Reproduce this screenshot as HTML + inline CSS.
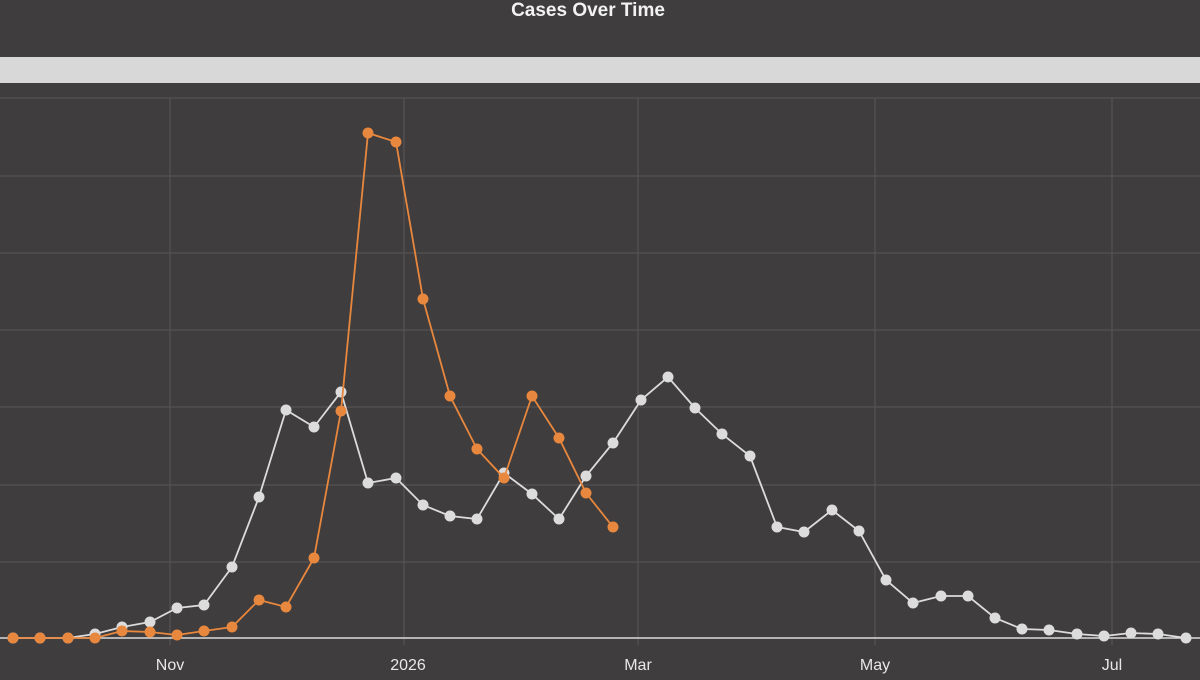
<!DOCTYPE html>
<html><head><meta charset="utf-8"><style>
body{margin:0;background:#3f3d3d;width:1200px;height:675px;overflow:hidden;font-family:"Liberation Sans",sans-serif}
</style></head><body>
<svg width="1200" height="675" xmlns="http://www.w3.org/2000/svg">
<rect width="1200" height="675" fill="#3f3d3d"/>
<text x="588" y="16" fill="#f2f2f2" font-size="19" font-weight="bold" text-anchor="middle">Cases Over Time</text>
<rect x="0" y="57" width="1200" height="26" fill="#d8d8d8"/>
<g stroke="#555353" stroke-width="1.2">
<line x1="0" y1="98" x2="1200" y2="98"/><line x1="0" y1="176" x2="1200" y2="176"/><line x1="0" y1="253" x2="1200" y2="253"/><line x1="0" y1="330" x2="1200" y2="330"/><line x1="0" y1="407" x2="1200" y2="407"/><line x1="0" y1="485" x2="1200" y2="485"/><line x1="0" y1="562" x2="1200" y2="562"/>
<line x1="170" y1="98" x2="170" y2="645"/><line x1="404" y1="98" x2="404" y2="645"/><line x1="638" y1="98" x2="638" y2="645"/><line x1="875" y1="98" x2="875" y2="645"/><line x1="1112" y1="98" x2="1112" y2="645"/>
</g>
<line x1="0" y1="638" x2="1200" y2="638" stroke="#dcdcdc" stroke-width="1.5"/>
<g fill="#e8e8e8" font-size="16" text-anchor="middle">
<text x="170" y="670">Nov</text><text x="408" y="670">2026</text><text x="638" y="670">Mar</text><text x="875" y="670">May</text><text x="1112" y="670">Jul</text>
</g>
<polyline fill="none" stroke="#dcdcdc" stroke-width="1.8" points="13,638 40,638 68,638 95,634 122,627 150,622 177,608 204,605 232,567 259,497 286,410 314,427 341,392 368,483 396,478 423,505 450,516 477,519 504,473 532,494 559,519 586,476 613,443 641,400 668,377 695,408 722,434 750,456 777,527 804,532 832,510 859,531 886,580 913,603 941,596 968,596 995,618 1022,629 1049,630 1077,634 1104,636 1131,633 1158,634 1186,638"/>
<g fill="#dcdcdc" id="w">
<circle cx="13" cy="638" r="5.5"/><circle cx="40" cy="638" r="5.5"/><circle cx="68" cy="638" r="5.5"/><circle cx="95" cy="634" r="5.5"/><circle cx="122" cy="627" r="5.5"/><circle cx="150" cy="622" r="5.5"/><circle cx="177" cy="608" r="5.5"/><circle cx="204" cy="605" r="5.5"/><circle cx="232" cy="567" r="5.5"/><circle cx="259" cy="497" r="5.5"/><circle cx="286" cy="410" r="5.5"/><circle cx="314" cy="427" r="5.5"/><circle cx="341" cy="392" r="5.5"/><circle cx="368" cy="483" r="5.5"/><circle cx="396" cy="478" r="5.5"/><circle cx="423" cy="505" r="5.5"/><circle cx="450" cy="516" r="5.5"/><circle cx="477" cy="519" r="5.5"/><circle cx="504" cy="473" r="5.5"/><circle cx="532" cy="494" r="5.5"/><circle cx="559" cy="519" r="5.5"/><circle cx="586" cy="476" r="5.5"/><circle cx="613" cy="443" r="5.5"/><circle cx="641" cy="400" r="5.5"/><circle cx="668" cy="377" r="5.5"/><circle cx="695" cy="408" r="5.5"/><circle cx="722" cy="434" r="5.5"/><circle cx="750" cy="456" r="5.5"/><circle cx="777" cy="527" r="5.5"/><circle cx="804" cy="532" r="5.5"/><circle cx="832" cy="510" r="5.5"/><circle cx="859" cy="531" r="5.5"/><circle cx="886" cy="580" r="5.5"/><circle cx="913" cy="603" r="5.5"/><circle cx="941" cy="596" r="5.5"/><circle cx="968" cy="596" r="5.5"/><circle cx="995" cy="618" r="5.5"/><circle cx="1022" cy="629" r="5.5"/><circle cx="1049" cy="630" r="5.5"/><circle cx="1077" cy="634" r="5.5"/><circle cx="1104" cy="636" r="5.5"/><circle cx="1131" cy="633" r="5.5"/><circle cx="1158" cy="634" r="5.5"/><circle cx="1186" cy="638" r="5.5"/>
</g>
<polyline fill="none" stroke="#e8873e" stroke-width="1.8" points="13,638 40,638 68,638 95,638 122,631 150,632 177,635 204,631 232,627 259,600 286,607 314,558 341,411 368,133 396,142 423,299 450,396 477,449 504,478 532,396 559,438 586,493 613,527"/>
<g fill="#e8873e">
<circle cx="13" cy="638" r="5.5"/><circle cx="40" cy="638" r="5.5"/><circle cx="68" cy="638" r="5.5"/><circle cx="95" cy="638" r="5.5"/><circle cx="122" cy="631" r="5.5"/><circle cx="150" cy="632" r="5.5"/><circle cx="177" cy="635" r="5.5"/><circle cx="204" cy="631" r="5.5"/><circle cx="232" cy="627" r="5.5"/><circle cx="259" cy="600" r="5.5"/><circle cx="286" cy="607" r="5.5"/><circle cx="314" cy="558" r="5.5"/><circle cx="341" cy="411" r="5.5"/><circle cx="368" cy="133" r="5.5"/><circle cx="396" cy="142" r="5.5"/><circle cx="423" cy="299" r="5.5"/><circle cx="450" cy="396" r="5.5"/><circle cx="477" cy="449" r="5.5"/><circle cx="504" cy="478" r="5.5"/><circle cx="532" cy="396" r="5.5"/><circle cx="559" cy="438" r="5.5"/><circle cx="586" cy="493" r="5.5"/><circle cx="613" cy="527" r="5.5"/>
</g>
</svg>
</body></html>
